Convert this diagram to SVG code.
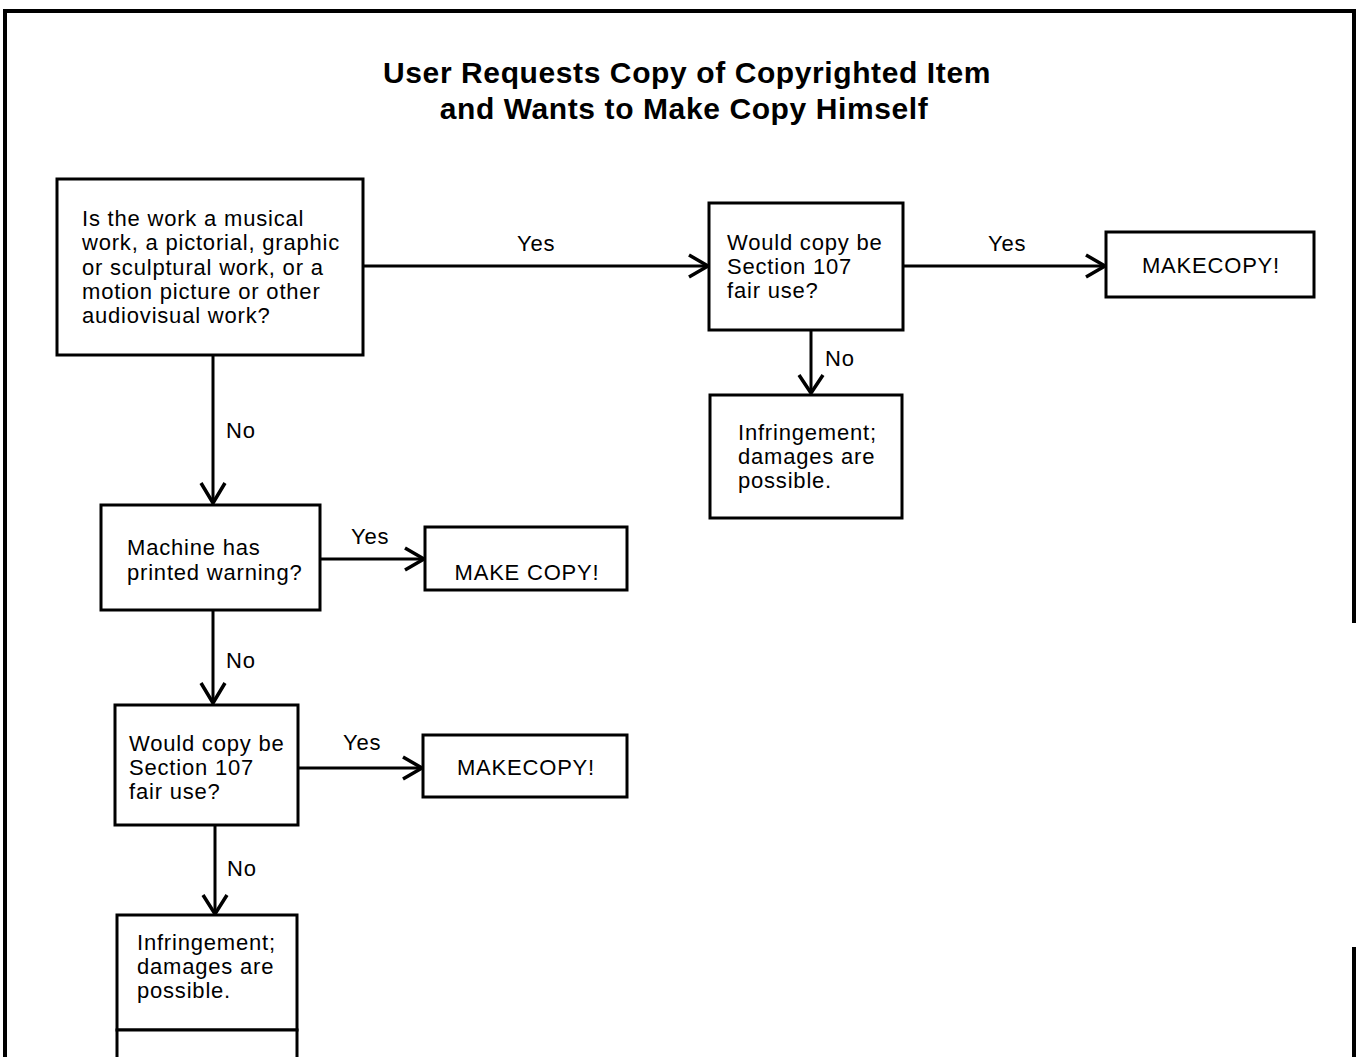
<svg xmlns="http://www.w3.org/2000/svg" width="1357" height="1057" viewBox="0 0 1357 1057">
<defs>
<style>
.box{fill:#fff;stroke:#000;stroke-width:3}
.t{font-family:"Liberation Sans",Arial,sans-serif;font-size:22px;letter-spacing:0.8px;fill:#000}
.title{font-family:"Liberation Sans",Arial,sans-serif;font-size:30px;letter-spacing:0.6px;font-weight:bold;fill:#000;text-anchor:middle}
.ln{stroke:#000;stroke-width:3;fill:none}
.ah{stroke:#000;stroke-width:3.5;fill:none;stroke-linejoin:miter}
</style>
</defs>
<rect width="1357" height="1057" fill="#fff"/>
<g id="frame">
<path d="M5 1060 V11 H1354 V623" class="ln" style="stroke-width:4"/>
<path d="M1354 947 V1060" class="ln" style="stroke-width:4"/>
</g>
<g id="title">
<text class="title" x="687" y="83">User Requests Copy of Copyrighted Item</text>
<text class="title" x="684" y="119">and Wants to Make Copy Himself</text>
</g>
<g id="connectors">
<line class="ln" x1="363" y1="266" x2="708" y2="266"/>
<path class="ah" d="M689 255 L708 266 L689 277"/>
<text class="t" x="517" y="251">Yes</text>
<line class="ln" x1="903" y1="266" x2="1105" y2="266"/>
<path class="ah" d="M1086 255 L1105 266 L1086 277"/>
<text class="t" x="988" y="251">Yes</text>
<line class="ln" x1="811" y1="330" x2="811" y2="393"/>
<path class="ah" d="M799 375 L811 393 L823 375"/>
<text class="t" x="825" y="366">No</text>
<line class="ln" x1="213" y1="355" x2="213" y2="503"/>
<path class="ah" d="M201 483 L213 503 L225 483"/>
<text class="t" x="226" y="438">No</text>
<line class="ln" x1="320" y1="559" x2="424" y2="559"/>
<path class="ah" d="M405 548 L424 559 L405 570"/>
<text class="t" x="351" y="544">Yes</text>
<line class="ln" x1="213" y1="610" x2="213" y2="703"/>
<path class="ah" d="M201 683 L213 703 L225 683"/>
<text class="t" x="226" y="668">No</text>
<line class="ln" x1="298" y1="768" x2="422" y2="768"/>
<path class="ah" d="M403 757 L422 768 L403 779"/>
<text class="t" x="343" y="750">Yes</text>
<line class="ln" x1="215" y1="825" x2="215" y2="914"/>
<path class="ah" d="M203 895 L215 914 L227 895"/>
<text class="t" x="227" y="876">No</text>
</g>
<g id="n1">
<rect class="box" x="57" y="179" width="306" height="176"/>
<text class="t" x="82" y="226">Is the work a musical</text>
<text class="t" x="82" y="250">work, a pictorial, graphic</text>
<text class="t" x="82" y="275">or sculptural work, or a</text>
<text class="t" x="82" y="299">motion picture or other</text>
<text class="t" x="82" y="323">audiovisual work?</text>
</g>
<g id="n2">
<rect class="box" x="709" y="203" width="194" height="127"/>
<text class="t" x="727" y="250">Would copy be</text>
<text class="t" x="727" y="274">Section 107</text>
<text class="t" x="727" y="298">fair use?</text>
</g>
<g id="n3">
<rect class="box" x="1106" y="232" width="208" height="65"/>
<text class="t" x="1211" y="273" text-anchor="middle">MAKECOPY!</text>
</g>
<g id="n4">
<rect class="box" x="710" y="395" width="192" height="123"/>
<text class="t" x="738" y="440">Infringement;</text>
<text class="t" x="738" y="464">damages are</text>
<text class="t" x="738" y="488">possible.</text>
</g>
<g id="n5">
<rect class="box" x="101" y="505" width="219" height="105"/>
<text class="t" x="127" y="555">Machine has</text>
<text class="t" x="127" y="580">printed warning?</text>
</g>
<g id="n6">
<rect class="box" x="425" y="527" width="202" height="63"/>
<text class="t" x="527" y="580" text-anchor="middle">MAKE COPY!</text>
</g>
<g id="n7">
<rect class="box" x="115" y="705" width="183" height="120"/>
<text class="t" x="129" y="751">Would copy be</text>
<text class="t" x="129" y="775">Section 107</text>
<text class="t" x="129" y="799">fair use?</text>
</g>
<g id="n8">
<rect class="box" x="423" y="735" width="204" height="62"/>
<text class="t" x="526" y="775" text-anchor="middle">MAKECOPY!</text>
</g>
<g id="n9">
<rect class="box" x="117" y="915" width="180" height="115"/>
<text class="t" x="137" y="950">Infringement;</text>
<text class="t" x="137" y="974">damages are</text>
<text class="t" x="137" y="998">possible.</text>
</g>
<g id="n10">
<rect class="box" x="117" y="1030" width="180" height="40"/>
</g>
</svg>
